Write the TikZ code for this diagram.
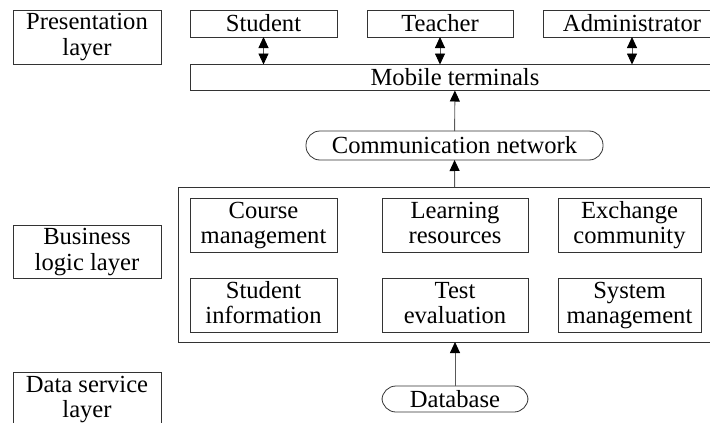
\documentclass[tikz,border=0pt]{standalone}
\usepackage{fontspec}
\setmainfont{Liberation Serif}
\usetikzlibrary{arrows.meta}
\tikzset{
  box/.style={draw=black!80, line width=0.8pt, inner sep=0pt, outer sep=0pt, align=center,
    font=\fontsize{24.6}{25.5}\selectfont},
  twoline/.style={box, text height=42.5pt, text depth=5.5pt},
  pill/.style={box, rounded corners=14pt},
  tip/.tip={Triangle[width=10pt,length=11pt,color=black]},
  link/.style={draw=black!65, line width=0.9pt, -tip},
  twolink/.style={draw=black!65, line width=0.9pt, tip-tip}
}
\begin{document}
\begin{tikzpicture}[x=1pt,y=-1pt]
            \useasboundingbox (0,0) rectangle (710,423);
            \clip (0,0) rectangle (710,423);
            % layer labels
            \node[twoline, minimum width=148pt, minimum height=54pt] (pres) at (87,37) {Presentation\\layer};
            \node[twoline, minimum width=148pt, minimum height=53pt] (busi) at (87,251.5) {Business\\logic layer};
            \node[twoline, minimum width=148pt, minimum height=54pt] (data) at (87,399) {Data service\\layer};
            % users
            \node[box, minimum width=147pt, minimum height=27pt] (student) at (263.5,23.5) {Student};
            \node[box, minimum width=146pt, minimum height=27pt] (teacher) at (440,23.5) {Teacher};
            \node[box, minimum width=178pt, minimum height=27pt] (admin) at (632,23.5) {Administrator};
            \node[box, minimum width=530pt, minimum height=26pt] (mobile) at (455,77.5) {Mobile terminals};
            \node[pill, minimum width=297pt, minimum height=29pt] (net) at (454.5,145.5) {Communication network};
            % business logic
            \node[box, minimum width=554pt, minimum height=155pt] (logic) at (455,264.5) {};
            \node[twoline, minimum width=147pt, minimum height=54pt] (course) at (263.5,225) {Course\\management};
            \node[twoline, minimum width=146pt, minimum height=54pt] (learn) at (455,225) {Learning\\resources};
            \node[twoline, minimum width=143pt, minimum height=54pt] (exch) at (629.5,225) {Exchange\\community};
            \node[twoline, minimum width=147pt, minimum height=54pt] (info) at (263.5,305) {Student\\information};
            \node[twoline, minimum width=146pt, minimum height=54pt] (test) at (455,305) {Test\\evaluation};
            \node[twoline, minimum width=143pt, minimum height=54pt] (sys) at (629.5,305) {System\\management};
            \node[pill, minimum width=146pt, minimum height=26pt] (db) at (455,399) {Database};
            % connectors
            \draw[twolink] (student) -- (student |- mobile.north);
            \draw[twolink] (teacher) -- (teacher |- mobile.north);
            \draw[twolink] (admin) -- (admin |- mobile.north);
            \draw[link] (net) -- (mobile);
            \draw[link] (logic) -- (net);
            \draw[link] (db) -- (logic);
\end{tikzpicture}
\end{document}
